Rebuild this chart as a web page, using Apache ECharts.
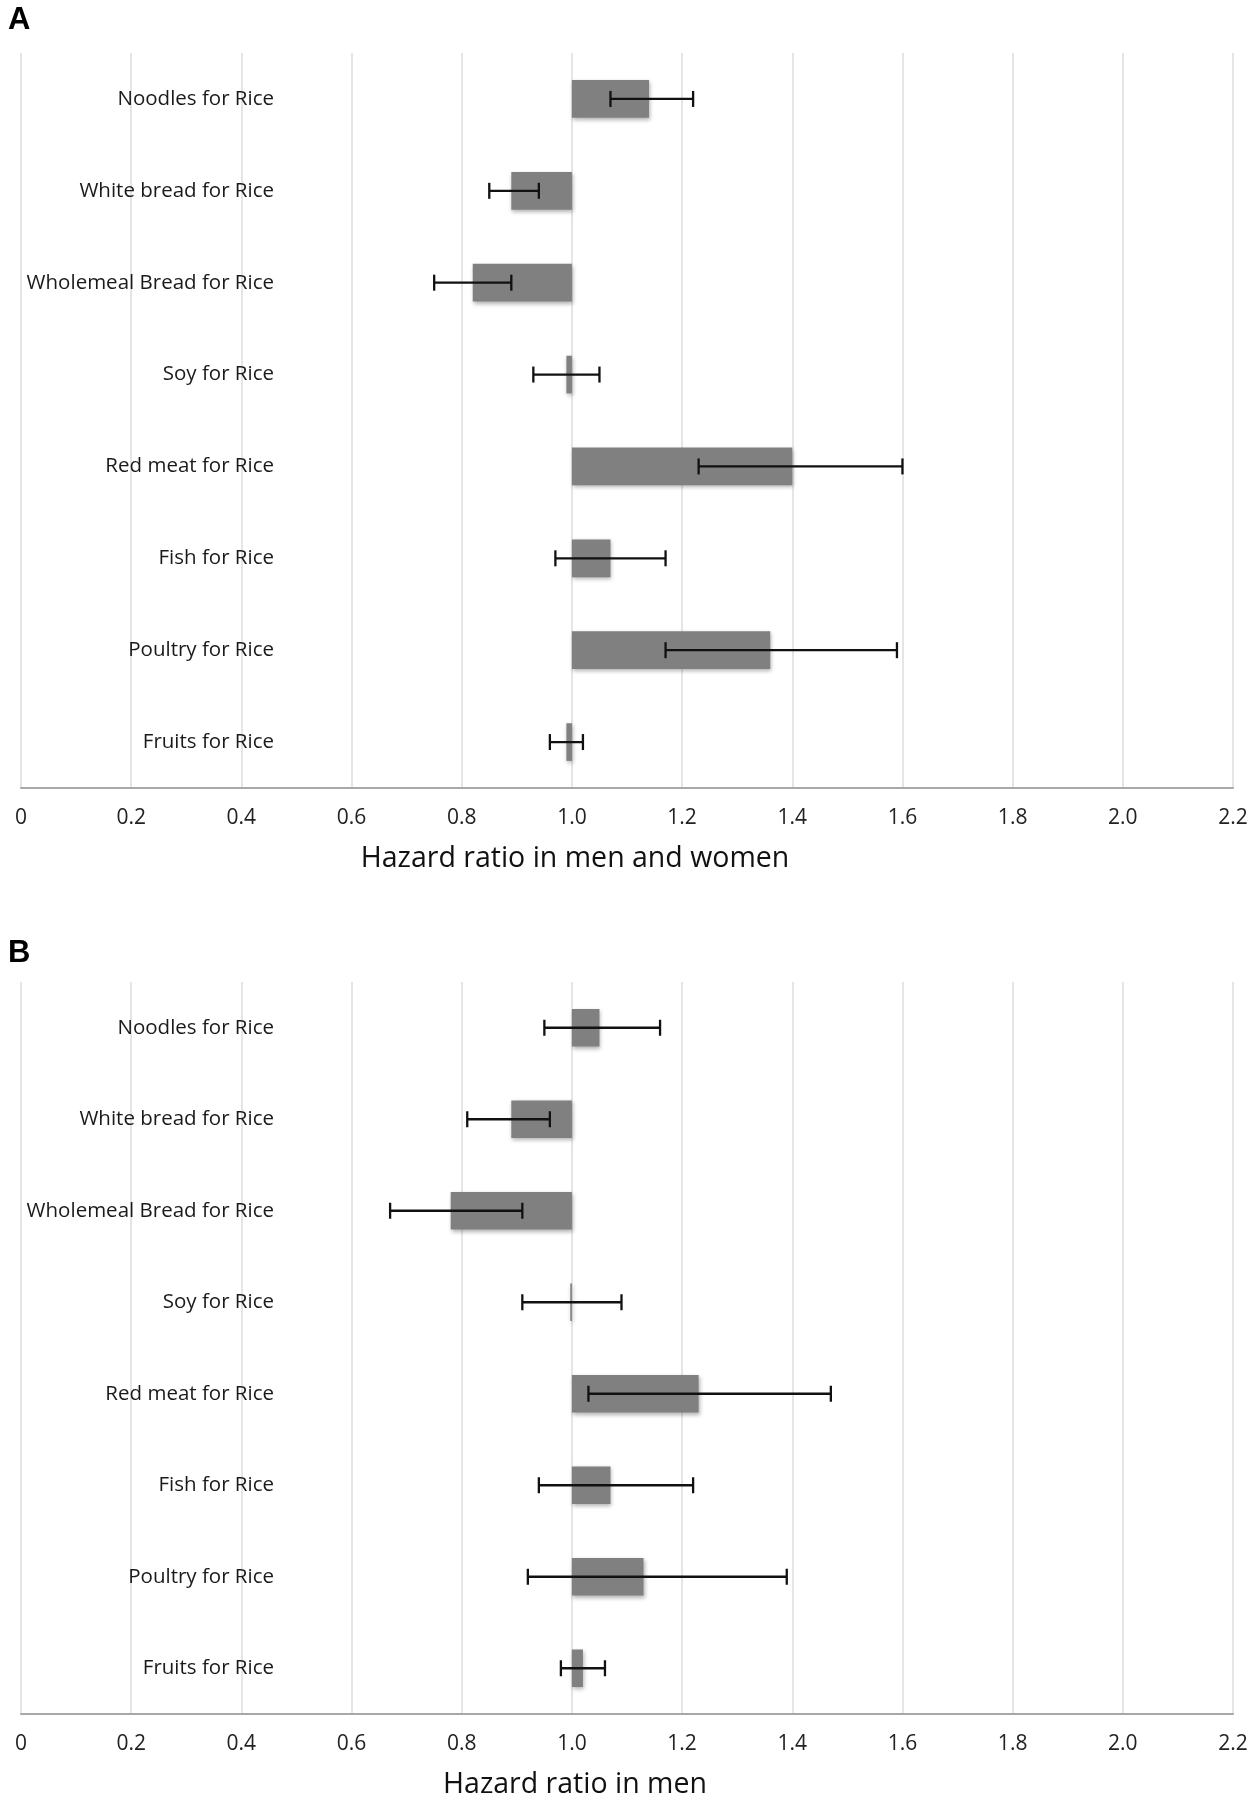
<!DOCTYPE html>
<html>

<head>
    <meta charset="utf-8">
    <script src="https://cdn.jsdelivr.net/npm/echarts@6/dist/echarts.min.js"></script>
    <style>
        body { margin: 0; background: #fff; }
    </style>
</head>

<body>
    <div id="main" style="width:1256px; height:1800px;"></div>
</body>

<script type="text/javascript">
    // substitutions, top to bottom
    var foods = ['Noodles for Rice', 'White bread for Rice', 'Wholemeal Bread for Rice', 'Soy for Rice',
        'Red meat for Rice', 'Fish for Rice', 'Poultry for Rice', 'Fruits for Rice'];

    // panel A: men and women
    var hrAll = [1.14, 0.89, 0.82, 0.99, 1.40, 1.07, 1.36, 0.99];
    var lowAll = [1.07, 0.85, 0.75, 0.93, 1.23, 0.97, 1.17, 0.96];
    var highAll = [1.22, 0.94, 0.89, 1.05, 1.60, 1.17, 1.59, 1.02];

    // panel B: men
    var hrMen = [1.05, 0.89, 0.78, 0.997, 1.23, 1.07, 1.13, 1.02];
    var lowMen = [0.95, 0.81, 0.67, 0.91, 1.03, 0.94, 0.92, 0.98];
    var highMen = [1.16, 0.96, 0.91, 1.09, 1.47, 1.22, 1.39, 1.06];

    var xTicks = ['0', '0.2', '0.4', '0.6', '0.8', '1.0', '1.2', '1.4', '1.6', '1.8', '2.0', '2.2'];

    var labelFont = 'Open Sans';

    function rows(hr, lo, hi) {
        return foods.map(function (f, i) { return [i, hr[i], lo[i], hi[i]]; });
    }

    // bar from 1.0 to the hazard ratio, with a CI whisker on top
    function renderBar(params, api) {
        var cat = api.value(0);
        var base = api.coord([1.0, cat]);
        var end = api.coord([api.value(1), cat]);
        var lo = api.coord([api.value(2), cat]);
        var hi = api.coord([api.value(3), cat]);
        var band = api.size([0, 1])[1];
        var h = band * 0.41;
        var cap = 8;
        var x0 = Math.min(base[0], end[0]);
        var w = Math.abs(end[0] - base[0]);
        var y = base[1];
        return {
            type: 'group',
            children: [{
                type: 'rect',
                shape: { x: x0, y: y - h / 2, width: w, height: h },
                style: {
                    fill: '#808080',
                    shadowBlur: 4,
                    shadowOffsetX: 1,
                    shadowOffsetY: 2,
                    shadowColor: 'rgba(0,0,0,0.3)'
                }
            }, {
                type: 'line',
                shape: { x1: lo[0], y1: y, x2: hi[0], y2: y },
                style: { stroke: '#111', lineWidth: 2.3 }
            }, {
                type: 'line',
                shape: { x1: lo[0], y1: y - cap, x2: lo[0], y2: y + cap },
                style: { stroke: '#111', lineWidth: 2.3 }
            }, {
                type: 'line',
                shape: { x1: hi[0], y1: y - cap, x2: hi[0], y2: y + cap },
                style: { stroke: '#111', lineWidth: 2.3 }
            }]
        };
    }

    function xAxisFor(idx, name) {
        return {
            gridIndex: idx,
            type: 'value',
            min: 0,
            max: 2.2,
            interval: 0.2,
            name: name,
            nameLocation: 'middle',
            nameGap: 56,
            nameTextStyle: {
                fontFamily: labelFont,
                fontSize: 28.5,
                color: '#111',
                padding: [0, 104, 0, 0]
            },
            axisLine: { show: true, lineStyle: { color: '#a8a8a8', width: 2 } },
            axisTick: { show: false },
            axisLabel: {
                fontFamily: labelFont,
                fontSize: 21,
                color: '#222',
                margin: 20,
                formatter: function (v) { return xTicks[Math.round(v / 0.2)]; }
            },
            splitLine: { show: true, lineStyle: { color: '#dcdcdc', width: 1.5 } }
        };
    }

    function yAxisFor(idx) {
        return {
            gridIndex: idx,
            type: 'category',
            data: foods,
            inverse: true,
            axisLine: { show: false },
            axisTick: { show: false },
            axisLabel: {
                fontFamily: labelFont,
                fontSize: 20.5,
                color: '#1a1a1a',
                margin: -253
            },
            splitLine: { show: false }
        };
    }

    var option = {
        backgroundColor: '#fff',
        animation: false,
        title: [
            { text: 'A', left: 8, top: 5, padding: 0, textStyle: { fontFamily: 'Liberation Sans', fontWeight: 'bold', fontSize: 31, color: '#000' } },
            { text: 'B', left: 8, top: 938, padding: 0, textStyle: { fontFamily: 'Liberation Sans', fontWeight: 'bold', fontSize: 31, color: '#000' } }
        ],
        grid: [
            { left: 21, top: 53, width: 1212, height: 735 },
            { left: 21, top: 982, width: 1212, height: 735 }
        ],
        xAxis: [
            xAxisFor(0, 'Hazard ratio in men and women'),
            xAxisFor(1, 'Hazard ratio in men')
        ],
        yAxis: [yAxisFor(0), yAxisFor(1)],
        series: [
            {
                name: 'Men and women',
                type: 'custom',
                xAxisIndex: 0,
                yAxisIndex: 0,
                renderItem: renderBar,
                encode: { x: [1, 2, 3], y: 0 },
                data: rows(hrAll, lowAll, highAll)
            },
            {
                name: 'Men',
                type: 'custom',
                xAxisIndex: 1,
                yAxisIndex: 1,
                renderItem: renderBar,
                encode: { x: [1, 2, 3], y: 0 },
                data: rows(hrMen, lowMen, highMen)
            }
        ]
    };

    var chart = echarts.init(document.getElementById('main'));
    chart.setOption(option);
</script>

</html>
